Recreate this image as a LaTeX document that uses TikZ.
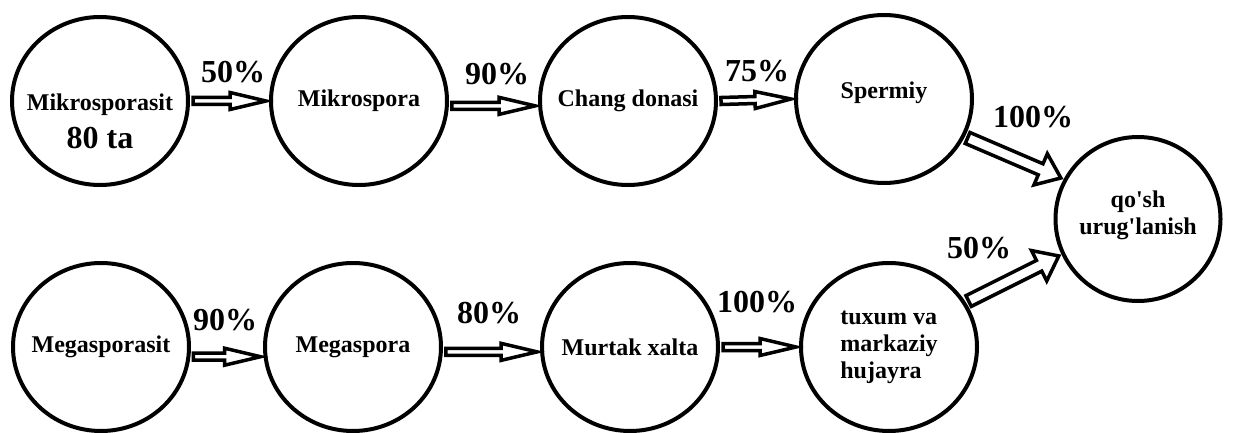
\documentclass[tikz,border=0pt]{standalone}
\usepackage{fontspec}
\setmainfont{Liberation Serif}
\usetikzlibrary{calc,shapes.geometric}
\tikzset{
    cell/.style={draw, ellipse, line width=4pt, minimum width=176pt, minimum height=168pt,
        outer sep=5pt, inner sep=0pt},
    celltext/.style={align=center, inner sep=0pt, font=\bfseries\fontsize{24}{27}\selectfont},
    pct/.style={anchor=base, inner sep=0pt, font=\bfseries\fontsize{32}{34}\selectfont},
    hollow arrow/.style n args={3}{draw, line width=3.5pt, fill=white, line join=miter,
        to path={($(\tikztostart)!#1!90:(\tikztotarget)$)
            -- ($(\tikztotarget)!#3!(\tikztostart)!#1!-90:(\tikztostart)$)
            -- ($(\tikztotarget)!#3!(\tikztostart)!#2!-90:(\tikztostart)$)
            -- (\tikztotarget)
            -- ($(\tikztotarget)!#3!(\tikztostart)!#2!90:(\tikztostart)$)
            -- ($(\tikztotarget)!#3!(\tikztostart)!#1!90:(\tikztostart)$)
            -- ($(\tikztostart)!#1!-90:(\tikztotarget)$) -- cycle}},
    stepflow/.style={hollow arrow={3.5pt}{8.5pt}{36pt}},
    joinflow/.style={hollow arrow={6pt}{17pt}{22pt}}
}
\begin{document}
\begin{tikzpicture}[x=1pt, y=-1pt]
\useasboundingbox (0,0) rectangle (1237,433);
% top row
\node[cell] (mikrosporasit) at (100,101) {};
\node[cell] (mikrospora) at (359,101) {};
\node[cell] (chang) at (628,101) {};
\node[cell] (spermiy) at (884,99) {};
\node[celltext] (mikrosporasit-t) at (100,121) {Mikrosporasit\\[11pt]{\fontsize{32}{34}\selectfont 80 ta}};
\node[celltext] (mikrospora-t) at (mikrospora) {Mikrospora};
\node[celltext] (chang-t) at (chang) {Chang donasi};
\node[celltext] (spermiy-t) at (884,93) {Spermiy};
% bottom row
\node[cell] (megasporasit) at (101,347) {};
\node[cell] (megaspora) at (353,347) {};
\node[cell] (murtak) at (630,347) {};
\node[cell] (tuxum) at (889,347) {};
\node[celltext] (megasporasit-t) at (megasporasit) {Megasporasit};
\node[celltext] (megaspora-t) at (megaspora) {Megaspora};
\node[celltext] (murtak-t) at (murtak) {Murtak xalta};
\node[celltext, align=left] (tuxum-t) at (tuxum) {tuxum va\\markaziy\\hujayra};
% result
\node[cell, minimum width=165pt, minimum height=164pt] (qosh) at (1138,219) {};
\node[celltext] (qosh-t) at (1138,215) {qo\textquotesingle sh\\urug\textquotesingle lanish};
% arrows
\draw[stepflow] (mikrosporasit.east) to (mikrospora.west);
\draw[stepflow] (mikrospora.-3) to (chang.183);
\draw[stepflow] (chang.east) to (spermiy.west);
\draw[joinflow] (spermiy.-25) to (qosh.152);
\draw[stepflow] (megasporasit.-6) to (megaspora.186);
\draw[stepflow] (megaspora.-3) to (murtak.183);
\draw[stepflow] (murtak.east) to (tuxum.west);
\draw[joinflow] (tuxum.30) to (qosh.205);
% percentages
\node[pct] (p-mikro) at (233,83) {50\%};
\node[pct] (p-chang) at (497,85) {90\%};
\node[pct] (p-sperm) at (757,82) {75\%};
\node[pct] (p-join1) at (1033,128) {100\%};
\node[pct] (p-mega) at (225,330) {90\%};
\node[pct] (p-murtak) at (489,323) {80\%};
\node[pct] (p-tuxum) at (757,312) {100\%};
\node[pct] (p-join2) at (979,258) {50\%};
\end{tikzpicture}
\end{document}
